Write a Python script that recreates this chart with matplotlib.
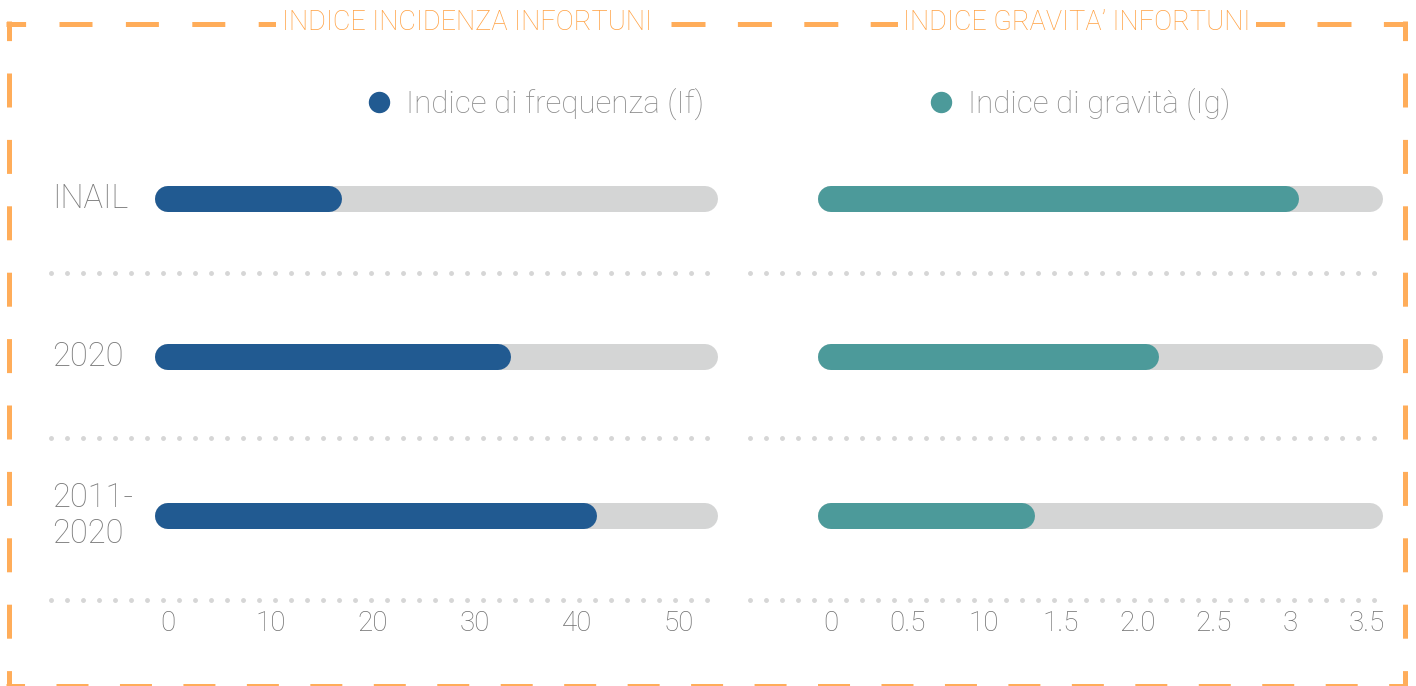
import matplotlib
matplotlib.use("Agg")
import matplotlib.pyplot as plt
import matplotlib.transforms as mtransforms
from matplotlib.lines import Line2D

plt.rcParams['lines.scale_dashes'] = False
plt.rcParams['font.family'] = ['Roboto', 'DejaVu Sans']
plt.rcParams['font.weight'] = 'light'

# --- data ---
categories = ["INAIL", "2020", "2011-\n2020"]
freq_values = [15.7, 32.3, 40.7]      # Indice di frequenza (If)
grav_values = [2.97, 2.06, 1.25]      # Indice di gravita (Ig)
freq_max = 52.5
grav_max = 3.52
freq_ticks = [0, 10, 20, 30, 40, 50]
freq_tick_labels = ["0", "10", "20", "30", "40", "50"]
grav_ticks = [0, 0.5, 1.0, 1.5, 2.0, 2.5, 3.0, 3.5]
grav_tick_labels = ["0", "0.5", "10", "1.5", "2.0", "2.5", "3", "3.5"]

# --- style ---
W, H = 1416, 686
PX = 0.72  # points per pixel at dpi 100
blue = '#215a91'
teal = '#4c9a9a'
track = '#d4d5d5'
dot_grey = '#d6d6d6'
txt_grey = '#7a7a7a'
orange = '#ffad5a'
title_orange = '#ffa040'

fig = plt.figure(figsize=(W / 100, H / 100), dpi=100)

# --- dashed frame (background axes in pixel units) ---
bg = fig.add_axes([0, 0, 1, 1], zorder=0)
bg.set_xlim(0, W)
bg.set_ylim(H, 0)
bg.axis('off')


def dashed(x, y, first_on, on, period, start):
    off = period - on
    offset = (start - first_on) % period
    bg.add_line(Line2D(x, y, color=orange, lw=5 * PX, solid_capstyle='butt',
                       linestyle=(offset * PX, (on * PX, off * PX))))


# top in three pieces (phase changes around the titles)
dashed([6, 654], [23.5, 23.5], 59, 33, 66.4, 6)
dashed([654, 1250], [23.5, 23.5], 671, 34, 66.4, 654)
dashed([1250, 1407], [23.5, 23.5], 1317, 34, 66.4, 1250)
# sides and bottom
dashed([8.5, 8.5], [21, 689], 73, 34, 66.4, 21)
dashed([1404.5, 1404.5], [21, 689], 73, 34, 66.4, 21)
dashed([6, 1407], [686, 686], 56, 32, 63.46, 6)

title_kw = dict(color=title_orange, fontsize=19.5, ha='center', va='center',
                bbox=dict(facecolor='white', edgecolor='none', boxstyle='square,pad=0.2'))
bg.text(466.5, 22, "INDICE INCIDENZA INFORTUNI", **title_kw)
bg.text(1077, 22, "INDICE GRAVITA\u2019 INFORTUNI", **title_kw)

# --- panels ---
ax_top, ax_bot = 150, 600
ylim = (2.53, -0.309)
sep_rows = [0.467, 1.508, 2.53]


def panel(left_px, right_px, xlim, values, vmax, color, ticks, tick_labels,
          dot_from, dot_to):
    ax = fig.add_axes([left_px / W, 1 - ax_bot / H, (right_px - left_px) / W,
                       (ax_bot - ax_top) / H], zorder=1)
    ax.set_xlim(*xlim)
    ax.set_ylim(*ylim)
    for s in ax.spines.values():
        s.set_visible(False)
    ax.set_yticks([])
    ax.set_xticks(ticks, tick_labels)
    ax.tick_params(axis='x', length=0, pad=7.5, labelsize=20, labelcolor='#6e6e6e')
    for i, v in enumerate(values):
        ax.plot([0, vmax], [i, i], color=track, lw=26 * PX, solid_capstyle='round')
        ax.plot([0, v], [i, i], color=color, lw=26 * PX, solid_capstyle='round')
    span = right_px - left_px
    for y in sep_rows:
        ax.axhline(y, xmin=(dot_from - left_px) / span, xmax=(dot_to - left_px) / span,
                   color=dot_grey, lw=5 * PX, clip_on=False,
                   linestyle=(0, (0.001, 16 * PX)), dash_capstyle='round')
    ax.patch.set_alpha(0)
    return ax


ax1 = panel(45, 722, (-12.04, 54.2), freq_values, freq_max, blue,
            freq_ticks, freq_tick_labels, 51, 718)
ax2 = panel(745, 1392, (-0.562, 3.665), grav_values, grav_max, teal,
            grav_ticks, grav_tick_labels, 750, 1386)

# row labels
lab_tr = mtransforms.blended_transform_factory(fig.transFigure, ax1.transData)
for i, c in enumerate(categories):
    ax1.text(52 / W, i, c, transform=lab_tr, ha='left', va='center',
             fontsize=23.5, color=txt_grey, linespacing=1.18)

# legends
for ax, color, label, mx in [(ax1, blue, "Indice di frequenza (If)", 379),
                             (ax2, teal, "Indice di gravit\u00e0 (Ig)", 941)]:
    fs = 22.5
    hl = 0.7
    handle = Line2D([], [], marker='o', ls='', color=color, markersize=20 * PX)
    ax.legend([handle], [label], loc='center left', frameon=False,
              bbox_to_anchor=((mx - hl * fs / PX / 2) / W, 1 - 104 / H),
              bbox_transform=fig.transFigure, borderpad=0, borderaxespad=0,
              handlelength=hl, handletextpad=0.53, fontsize=fs,
              labelcolor='#8c8c8c')

fig.savefig("out.png", dpi=100)
